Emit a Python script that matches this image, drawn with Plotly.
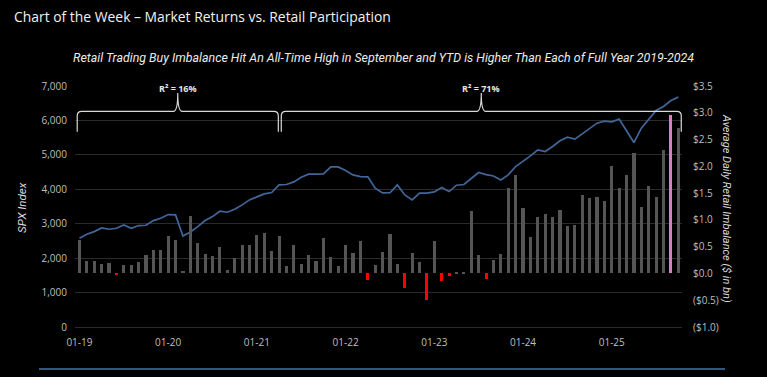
import plotly.graph_objects as go
import pandas as pd

# ---------------- data ----------------
months = pd.date_range("2019-01-01", "2025-10-01", freq="MS")
month_labels = [d.strftime("%m-%y") for d in months]

spx_index = [
    2578, 2695, 2771, 2878, 2839, 2868, 2965, 2868, 2946, 2955, 3091, 3159,
    3265, 3256, 2645, 2762, 2917, 3091, 3207, 3363, 3333, 3421, 3547, 3692,
    3779, 3866, 3905, 4128, 4138, 4215, 4351, 4438, 4438, 4448, 4651, 4651,
    4545, 4419, 4370, 4360, 4031, 3895, 3900, 4128, 3837, 3692, 3886, 3886,
    3924, 4050, 3934, 4118, 4138, 4302, 4486, 4428, 4385, 4273, 4419, 4661,
    4806, 4971, 5145, 5097, 5242, 5407, 5514, 5455, 5610, 5775, 5920, 5979,
    5959, 6037, 5678, 5358, 5775, 6037, 6289, 6405, 6579, 6677,
]

retail_imbalance = [
    0.63, 0.24, 0.23, 0.17, 0.20, -0.03, 0.15, 0.15, 0.21, 0.34, 0.44, 0.43,
    0.70, 0.62, 0.04, 1.07, 0.56, 0.37, 0.32, 0.49, 0.07, 0.28, 0.53, 0.53,
    0.72, 0.76, 0.41, 0.70, 0.13, 0.54, 0.17, 0.35, 0.24, 0.67, 0.31, 0.14,
    0.53, 0.39, 0.61, -0.12, 0.15, 0.40, 0.73, 0.17, -0.27, 0.39, 0.22, -0.50,
    0.60, -0.14, -0.05, 0.02, 0.02, 1.16, 0.35, -0.10, 0.25, 0.37, 1.60, 1.83,
    1.23, 0.68, 1.06, 1.11, 1.06, 1.19, 0.88, 0.91, 1.46, 1.40, 1.42, 1.35,
    2.01, 1.59, 1.84, 2.25, 1.24, 1.64, 1.42, 2.31, 2.95, 2.72,
]

highlight_month = "09-25"
x_tick_labels = ["01-19", "01-20", "01-21", "01-22", "01-23", "01-24", "01-25"]
left_ticks = [0, 1000, 2000, 3000, 4000, 5000, 6000, 7000]
right_tick_vals = [-1.0, -0.5, 0.0, 0.5, 1.0, 1.5, 2.0, 2.5, 3.0, 3.5]
right_tick_text = ["($1.0)", "($0.5)", "$0.0", "$0.5", "$1.0", "$1.5",
                   "$2.0", "$2.5", "$3.0", "$3.5"]

r2_periods = [("01-19", "03-21", "R² = 16%"), ("04-21", "10-25", "R² = 71%")]

# ---------------- styling ----------------
W, H = 767, 377
ML, MR, MT, MB = 75, 85, 86, 50
TXT = "#bfbfbf"
COND = "Roboto, Liberation Sans Narrow, sans-serif"
BASE = "Open Sans, Noto Sans, sans-serif"

x = list(range(len(month_labels)))
bar_colors = []
for lab, v in zip(month_labels, retail_imbalance):
    if lab == highlight_month:
        bar_colors.append("#e07cc4")
    elif v < 0:
        bar_colors.append("#ff0000")
    else:
        bar_colors.append("#555555")

fig = go.Figure()
fig.add_trace(go.Bar(
    x=x, y=retail_imbalance, yaxis="y2", width=0.42,
    marker=dict(color=bar_colors, line=dict(width=0)),
    hoverinfo="skip", showlegend=False,
))
fig.add_trace(go.Scatter(
    x=x, y=spx_index, mode="lines", yaxis="y",
    line=dict(color="#41679a", width=1.7),
    hoverinfo="skip", showlegend=False,
))

tick_idx = [month_labels.index(t) for t in x_tick_labels]

pw, ph = W - ML - MR, H - MT - MB

def px_x(px):
    return (px - ML) / pw

def px_y(py):
    return (H - MB - py) / ph

# braces
shapes = []
annotations = []
y_base, y_h, y_tip = 5670, 6265, 6800
rx, ry = 0.6, 130
for i, (a, b, lab) in enumerate(r2_periods):
    x0 = month_labels.index(a) + (-0.3 if i == 0 else 0.3)
    x1 = month_labels.index(b) + (0.9 if i == 0 else 0.4)
    xm = (x0 + x1) / 2
    path = (f"M {x0},{y_base} L {x0},{y_h - ry} Q {x0},{y_h} {x0 + rx},{y_h} "
            f"L {xm - rx},{y_h} Q {xm},{y_h} {xm},{y_tip} "
            f"Q {xm},{y_h} {xm + rx},{y_h} L {x1 - rx},{y_h} "
            f"Q {x1},{y_h} {x1},{y_h - ry} L {x1},{y_base}")
    shapes.append(dict(type="path", path=path, xref="x", yref="y",
                       line=dict(color="#d9d9d9", width=1.2)))
    annotations.append(dict(x=xm, y=px_y(80), xref="x", yref="paper",
                            text=f"<b>{lab}</b>", showarrow=False,
                            font=dict(size=9, color="#e6e6e6", family=BASE)))

# bottom rule
shapes.append(dict(type="line", xref="paper", yref="paper",
                   x0=px_x(39), x1=px_x(725), y0=px_y(369), y1=px_y(369),
                   line=dict(color="#34557f", width=2)))

annotations += [
    dict(x=px_x(12), y=px_y(17), xref="paper", yref="paper", xanchor="left",
         yanchor="middle", text="Chart of the Week – Market Returns vs. Retail Participation",
         showarrow=False, font=dict(size=13.9, color="#f2f2f2", family=BASE)),
    dict(x=px_x(383), y=px_y(57), xref="paper", yref="paper", xanchor="center",
         yanchor="middle",
         text="<i>Retail Trading Buy Imbalance Hit An All-Time High in September and YTD is Higher Than Each of Full Year 2019-2024</i>",
         showarrow=False, font=dict(size=12.4, color="#ececec", family=COND)),
    dict(x=px_x(22), y=px_y(207), xref="paper", yref="paper", xanchor="center",
         yanchor="middle", text="<i>SPX Index</i>", textangle=-90,
         showarrow=False, font=dict(size=11.5, color="#d9d9d9", family=COND)),
    dict(x=px_x(727), y=px_y(208), xref="paper", yref="paper", xanchor="center",
         yanchor="middle", text="<i>Average Daily Retail Imbalance ($ in bn)</i>", textangle=90,
         showarrow=False, font=dict(size=11, color="#d9d9d9", family=COND)),
]

fig.update_layout(
    width=W, height=H,
    margin=dict(l=ML, r=MR, t=MT, b=MB, pad=0),
    paper_bgcolor="#000000", plot_bgcolor="#000000",
    font=dict(family=BASE, color=TXT, size=10),
    bargap=0,
    xaxis=dict(range=[-0.6, 81.5], tickvals=tick_idx, ticktext=x_tick_labels,
               showgrid=False, zeroline=False, showline=False, ticks="",
               ticklabelstandoff=8, tickfont=dict(size=10, color=TXT)),
    yaxis=dict(range=[0, 7000], tickvals=left_ticks, tickformat=",d",
               showgrid=True, gridcolor="#2b2b2b", gridwidth=1,
               zeroline=True, zerolinecolor="#2b2b2b", zerolinewidth=1,
               showline=False, ticks="", ticklabelstandoff=7,
               tickfont=dict(size=10, color=TXT)),
    yaxis2=dict(range=[-1.0, 3.5], overlaying="y", side="right",
                tickvals=right_tick_vals, ticktext=right_tick_text,
                showgrid=False, zeroline=False, showline=False, ticks="",
                ticklabelstandoff=10, tickfont=dict(size=10, color=TXT)),
    shapes=shapes, annotations=annotations,
)

fig.write_html(
    "out.html",
    config={"displayModeBar": False},
    post_script="document.body.style.margin='0';document.body.style.background='#000';",
)
